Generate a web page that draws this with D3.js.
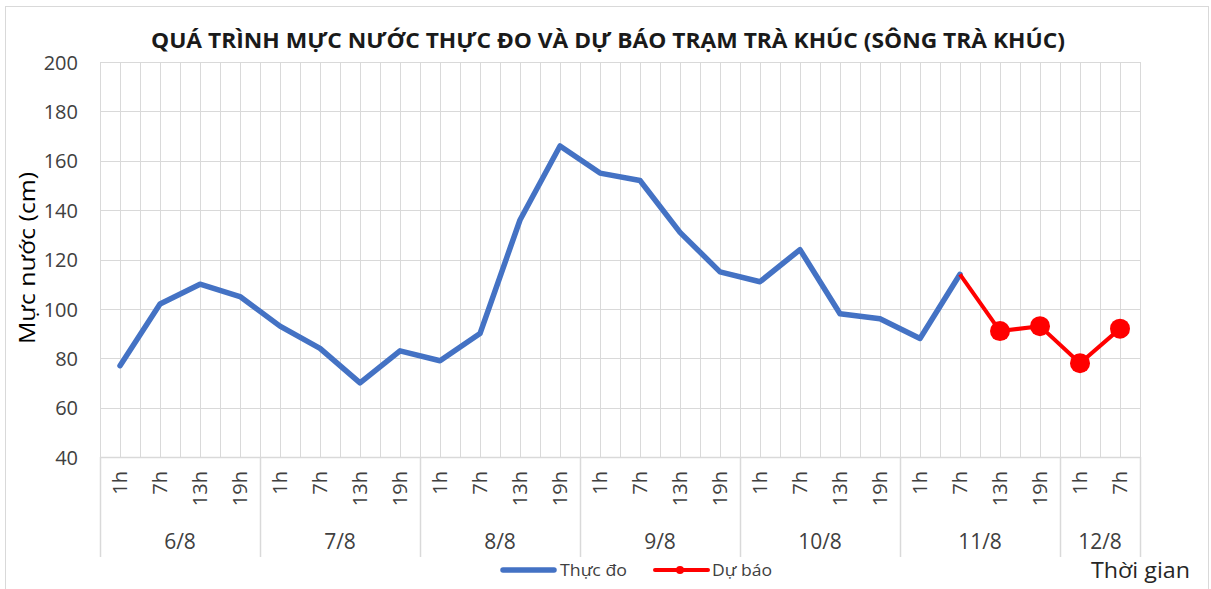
<!DOCTYPE html>
<html>
<head>
<meta charset="utf-8">
<script src="https://cdn.jsdelivr.net/npm/d3@7"></script>
<style>
  html, body { margin: 0; padding: 0; background: #fff; }
  svg { display: block; font-family: "Open Sans", "Noto Sans", sans-serif; }
</style>
</head>
<body>
<svg id="chart" width="1211" height="589"></svg>
<script>
// ---- data ----
const titleText = "QUÁ TRÌNH MỰC NƯỚC THỰC ĐO VÀ DỰ BÁO TRẠM TRÀ KHÚC (SÔNG TRÀ KHÚC)";
const yTitle = "Mực nước (cm)";
const xTitle = "Thời gian";
const days = ["6/8", "7/8", "8/8", "9/8", "10/8", "11/8", "12/8"];
const dayHours = [
  ["1h", "7h", "13h", "19h"],
  ["1h", "7h", "13h", "19h"],
  ["1h", "7h", "13h", "19h"],
  ["1h", "7h", "13h", "19h"],
  ["1h", "7h", "13h", "19h"],
  ["1h", "7h", "13h", "19h"],
  ["1h", "7h"]
];
const observed = [77, 102, 110, 105, 93, 84, 70, 83, 79, 90, 136, 166, 155, 152, 131, 115, 111, 124, 98, 96, 88, 114];
const forecastStart = 21;
const forecast = [114, 91, 93, 78, 92];
const yTicks = [40, 60, 80, 100, 120, 140, 160, 180, 200];
const seriesNames = ["Thực đo", "Dự báo"];

// ---- build categories ----
const categories = [];
days.forEach((d, di) => dayHours[di].forEach(h => categories.push({ day: d, hour: h, key: d + "|" + h })));

const svg = d3.select("#chart");
const W = 1211, H = 589;
const plot = { left: 100, right: 1140, top: 62, bottom: 457 };

// outer frame
svg.append("rect").attr("x", 5.5).attr("y", 6.5).attr("width", 1203).attr("height", 600)
  .attr("fill", "#fff").attr("stroke", "#d9d9d9").attr("stroke-width", 1);

const x = d3.scaleBand().domain(categories.map(c => c.key)).range([plot.left, plot.right]).padding(0);
const y = d3.scaleLinear().domain([40, 200]).range([plot.bottom, plot.top]);
const cx = i => x(categories[i].key) + x.bandwidth() / 2;

const gridColor = "#d9d9d9";

// vertical gridlines (category boundaries and centers)
const g = svg.append("g");
const vlines = [];
categories.forEach((c, i) => { vlines.push(x(c.key)); vlines.push(cx(i)); });
vlines.push(plot.right);
g.selectAll("line.v").data(vlines).join("line")
  .attr("x1", d => Math.round(d) + 0.5).attr("x2", d => Math.round(d) + 0.5)
  .attr("y1", plot.top).attr("y2", plot.bottom)
  .attr("stroke", gridColor).attr("stroke-width", 1);

// horizontal gridlines
g.selectAll("line.h").data(yTicks).join("line")
  .attr("x1", plot.left).attr("x2", plot.right)
  .attr("y1", d => Math.round(y(d)) + 0.5).attr("y2", d => Math.round(y(d)) + 0.5)
  .attr("stroke", gridColor).attr("stroke-width", 1);

// y axis labels
const yAxis = d3.axisLeft(y).tickValues(yTicks).tickSize(0).tickPadding(0);
const ya = svg.append("g").attr("transform", `translate(${plot.left - 22},0)`).call(yAxis);
ya.select(".domain").remove();
ya.selectAll("text").attr("font-size", 20).attr("fill", "#404040")
  .attr("font-family", "\"Open Sans\", sans-serif").attr("dy", "0.36em");

// category axis: bottom line
svg.append("line").attr("x1", plot.left).attr("x2", plot.right)
  .attr("y1", plot.bottom + 0.5).attr("y2", plot.bottom + 0.5)
  .attr("stroke", gridColor).attr("stroke-width", 1.5);

// group separators
let idx = 0;
const sepXs = [plot.left];
const groupCenters = [];
days.forEach((d, di) => {
  const start = idx, end = idx + dayHours[di].length - 1;
  const x0 = x(categories[start].key), x1 = x(categories[end].key) + x.bandwidth();
  sepXs.push(x1);
  groupCenters.push({ day: d, cx: (x0 + x1) / 2 });
  idx = end + 1;
});
svg.selectAll("line.sep").data(sepXs).join("line")
  .attr("x1", d => Math.round(d) + 0.5).attr("x2", d => Math.round(d) + 0.5)
  .attr("y1", plot.bottom).attr("y2", 557)
  .attr("stroke", gridColor).attr("stroke-width", 1.5);

// hour labels (rotated)
const xAxis = d3.axisBottom(x).tickSize(0).tickFormat(k => k.split("|")[1]);
const xa = svg.append("g").attr("transform", `translate(0,${plot.bottom})`).call(xAxis);
xa.select(".domain").remove();
xa.selectAll(".tick text")
  .attr("transform", "rotate(-90)")
  .attr("text-anchor", "end")
  .attr("x", -14).attr("y", 0).attr("dy", "0.36em")
  .attr("font-size", 20).attr("fill", "#404040")
  .attr("font-family", "\"Open Sans\", sans-serif");

// day labels
svg.selectAll("text.day").data(groupCenters).join("text")
  .attr("x", d => d.cx).attr("y", 549).attr("text-anchor", "middle")
  .attr("font-size", 21).attr("fill", "#404040").text(d => d.day);

// lines
const line = d3.line().x(d => cx(d.i)).y(d => y(d.v));
const obsData = observed.map((v, i) => ({ i, v }));
const fcData = forecast.map((v, k) => ({ i: forecastStart + k, v }));

svg.append("path").datum(obsData).attr("d", line)
  .attr("fill", "none").attr("stroke", "#4472C4").attr("stroke-width", 5.5)
  .attr("stroke-linejoin", "round").attr("stroke-linecap", "round");

svg.append("path").datum(fcData).attr("d", line)
  .attr("fill", "none").attr("stroke", "#FF0000").attr("stroke-width", 4)
  .attr("stroke-linejoin", "round");

svg.selectAll("circle.fc").data(fcData.slice(1)).join("circle")
  .attr("cx", d => cx(d.i)).attr("cy", d => y(d.v)).attr("r", 10)
  .attr("fill", "#FF0000");

// title
svg.append("text").attr("x", 608).attr("y", 48).attr("text-anchor", "middle")
  .attr("font-size", 21).attr("font-weight", "bold").attr("fill", "#1a1a1a")
  .attr("textLength", 914).attr("lengthAdjust", "spacingAndGlyphs")
  .text(titleText);

// y title
svg.append("text").attr("transform", "translate(35,258) rotate(-90)")
  .attr("text-anchor", "middle").attr("font-size", 22).attr("fill", "#000")
  .attr("textLength", 172).attr("lengthAdjust", "spacingAndGlyphs")
  .text(yTitle);

// x title
svg.append("text").attr("x", 1091).attr("y", 578)
  .attr("font-size", 21).attr("fill", "#262626")
  .attr("textLength", 99).attr("lengthAdjust", "spacingAndGlyphs")
  .text(xTitle);

// legend
const lg = svg.append("g");
lg.append("line").attr("x1", 503).attr("x2", 554).attr("y1", 570).attr("y2", 570)
  .attr("stroke", "#4472C4").attr("stroke-width", 5.5).attr("stroke-linecap", "round");
lg.append("text").attr("x", 560).attr("y", 576).attr("font-size", 17).attr("fill", "#404040")
  .attr("textLength", 67).attr("lengthAdjust", "spacingAndGlyphs").text(seriesNames[0]);
lg.append("line").attr("x1", 655).attr("x2", 708).attr("y1", 570).attr("y2", 570)
  .attr("stroke", "#FF0000").attr("stroke-width", 4).attr("stroke-linecap", "round");
lg.append("circle").attr("cx", 680).attr("cy", 570).attr("r", 4).attr("fill", "#FF0000");
lg.append("text").attr("x", 712).attr("y", 576).attr("font-size", 17).attr("fill", "#404040")
  .attr("textLength", 60).attr("lengthAdjust", "spacingAndGlyphs").text(seriesNames[1]);
</script>
</body>
</html>
